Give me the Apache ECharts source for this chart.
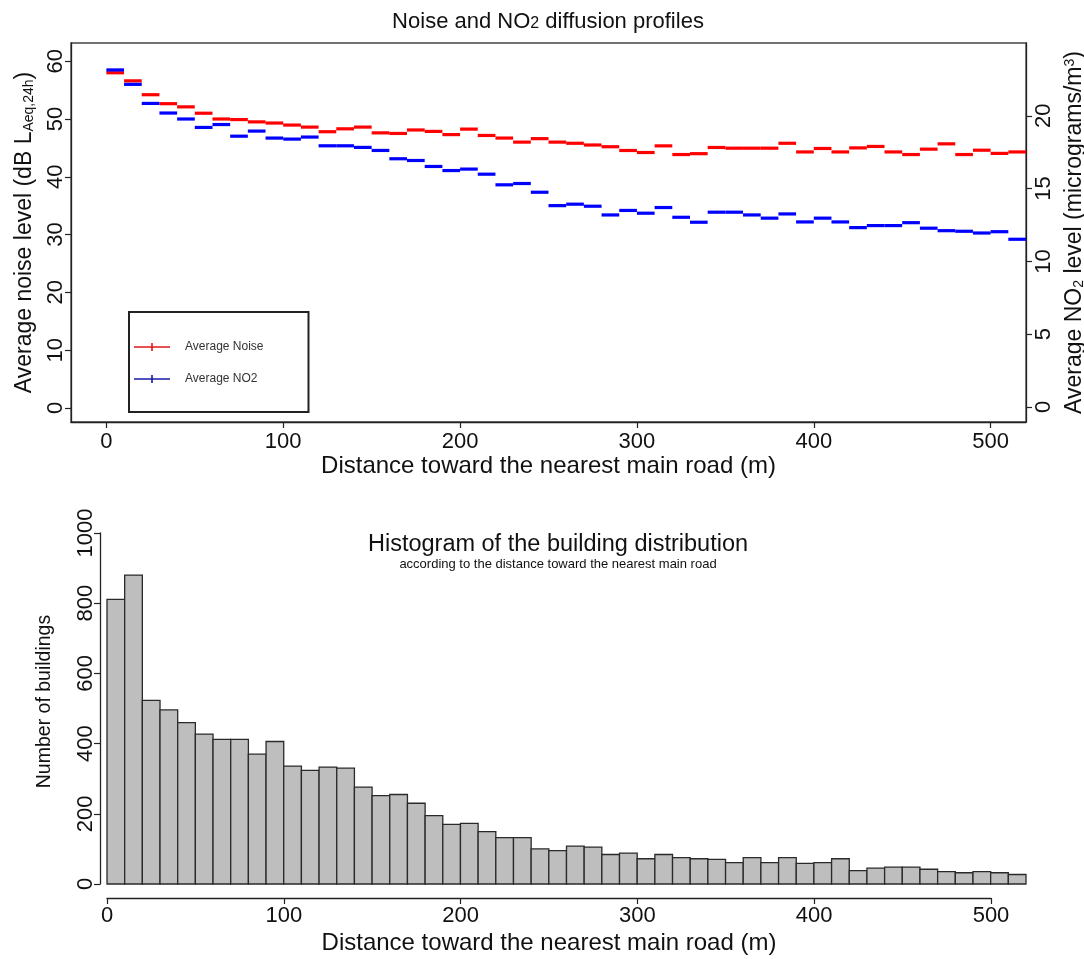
<!DOCTYPE html>
<html>
<head>
<meta charset="utf-8">
<script src="https://cdn.jsdelivr.net/npm/echarts@6/dist/echarts.min.js"></script>
<style>
html,body{margin:0;padding:0;background:#fff;}
#chart{width:1084px;height:959px;}
</style>
</head>
<body>
<div id="chart"></div>
<script>
// ---- data ----
const binEdges = [0,10,20,30,40,50,60,70,80,90,100,110,120,130,140,150,160,170,180,190,200,210,220,230,240,250,260,270,280,290,300,310,320,330,340,350,360,370,380,390,400,410,420,430,440,450,460,470,480,490,500,510,520];
const noiseLevels = [58.0,56.6,54.2,52.65,52.1,51.0,50.0,49.9,49.5,49.3,
  48.95,48.6,47.8,48.3,48.6,47.6,47.5,48.1,47.85,47.3,
  48.25,47.15,46.7,46.0,46.6,46.0,45.8,45.5,45.2,44.55,
  44.2,45.35,43.85,44.0,45.07,44.95,44.95,44.95,45.8,44.3,
  44.9,44.3,45.0,45.25,44.3,43.85,44.78,45.7,43.85,44.6,
  44.05,44.3];
const no2Levels = [23.15,22.16,20.85,20.19,19.78,19.2,19.4,18.6,18.95,18.47,
  18.4,18.54,17.94,17.94,17.83,17.62,17.05,16.93,16.52,16.24,
  16.34,15.99,15.26,15.35,14.75,13.83,13.93,13.79,13.19,13.5,
  13.31,13.7,13.03,12.69,13.38,13.38,13.19,12.97,13.26,12.71,
  12.97,12.71,12.32,12.46,12.46,12.66,12.28,12.11,12.07,11.95,
  12.04,11.52];
const buildingCounts = [811,880,523,496,460,427,412,412,370,406,
  336,324,333,330,276,252,255,230,195,170,
  173,149,132,132,100,95,108,105,84,88,
  72,84,75,72,70,61,75,61,75,59,
  61,72,38,45,48,48,42,35,32,35,
  32,27];
const distanceTicks = [0,100,200,300,400,500];
const noiseTicks = [0,10,20,30,40,50,60];
const no2Ticks = [0,5,10,15,20];
const countTicks = [0,200,400,600,800,1000];

// ---- build ----
const FONT = 'Liberation Sans, Arial, sans-serif';
function segs(values){ return values.map((v,i)=>[binEdges[i], binEdges[i+1], v]); }

function segRender(color){
  return function(params, api){
    const p0 = api.coord([api.value(0), api.value(2)]);
    const p1 = api.coord([api.value(1), api.value(2)]);
    return {type:'line', shape:{x1:p0[0],y1:p0[1],x2:p1[0],y2:p1[1]},
      style:{stroke:color, lineWidth:3.2}};
  };
}
function histRender(params, api){
  const p0 = api.coord([api.value(0), api.value(2)]);
  const p1 = api.coord([api.value(1), 0]);
  return {type:'rect', shape:{x:p0[0], y:p0[1], width:p1[0]-p0[0], height:p1[1]-p0[1]},
    style:{fill:'#bebebe', stroke:'#2a2a2a', lineWidth:1.3}};
}

const axisLine = {show:true, onZero:false, lineStyle:{color:'#222', width:1.3}};
const tick = {show:true, length:6, lineStyle:{color:'#222', width:1.2}};
const label = {color:'#111', fontSize:22, fontFamily:FONT, formatter:function(v){return String(v);}};
function nameStyle(size, extra){
  return Object.assign({color:'#111', fontSize:size, fontFamily:FONT,
    rich:{sub:{fontSize:Math.round(size*0.6), fontFamily:FONT, color:'#111', verticalAlign:'bottom'},
          sup:{fontSize:Math.round(size*0.6), fontFamily:FONT, color:'#111', verticalAlign:'top'}}}, extra || {});
}

const legendIcon = 'path://M0,3.2h36v1.6h-36z M17.2,0h1.6v8h-1.6z';

const option = {
  animation:false,
  backgroundColor:'#fff',
  title:[
    {text:'Noise and NO{sub|2} diffusion profiles', left:548, top:11, textAlign:'center', padding:0,
     textStyle:{color:'#111', fontSize:22, fontWeight:'normal', fontFamily:FONT,
       rich:{sub:{fontSize:16, color:'#111', fontFamily:FONT, padding:[3,0,0,0]}}}},
    {text:'Histogram of the building distribution', subtext:'according to the distance toward the nearest main road',
     left:558, top:533, textAlign:'center', padding:0, itemGap:1,
     textStyle:{color:'#111', fontSize:23.5, fontWeight:'normal', fontFamily:FONT},
     subtextStyle:{color:'#111', fontSize:13, fontFamily:FONT}}
  ],
  legend:{
    left:129, top:312, orient:'vertical', itemWidth:36, itemHeight:8, itemGap:20,
    padding:[29,45,27,5], borderColor:'#222', borderWidth:2, backgroundColor:'#fff',
    textStyle:{color:'#333', fontSize:12, fontFamily:FONT, padding:[0,0,0,10]},
    data:[
      {name:'Average Noise', icon:legendIcon, itemStyle:{color:'#e01818'}},
      {name:'Average NO2', icon:legendIcon, itemStyle:{color:'#1a1aa8'}}
    ]
  },
  grid:[
    {left:71, top:43, width:955, height:379, show:true, borderColor:'#444', borderWidth:1.3, containLabel:false, outerBoundsMode:'none'},
    {left:107, top:533, width:919, height:351, containLabel:false, outerBoundsMode:'none'},
    {left:107, top:897, width:884, height:1, containLabel:false, outerBoundsMode:'none'}
  ],
  xAxis:[
    {gridIndex:0, type:'value', min:-20, max:520, position:'bottom',
     axisLine:axisLine, splitLine:{show:false},
     axisTick:Object.assign({customValues:distanceTicks}, tick),
     axisLabel:Object.assign({customValues:distanceTicks, margin:9}, label),
     name:'Distance toward the nearest main road (m)', nameLocation:'middle', nameGap:31, nameTextStyle:nameStyle(24)},
    {gridIndex:1, type:'value', min:0, max:520, show:false},
    {gridIndex:2, type:'value', min:0, max:500, position:'bottom',
     axisLine:axisLine, splitLine:{show:false},
     axisTick:Object.assign({customValues:distanceTicks}, tick),
     axisLabel:Object.assign({customValues:distanceTicks, margin:7}, label),
     name:'Distance toward the nearest main road (m)', nameLocation:'middle', nameGap:33, nameTextStyle:nameStyle(24)}
  ],
  yAxis:[
    {gridIndex:0, type:'value', min:-2.43, max:63.15, position:'left',
     axisLine:axisLine, splitLine:{show:false},
     axisTick:Object.assign({customValues:noiseTicks}, tick),
     axisLabel:Object.assign({customValues:noiseTicks, rotate:90, margin:4}, label),
     name:'Average noise level (dB L{sub|Aeq,24h})', nameLocation:'middle', nameRotate:90, nameGap:35, nameTextStyle:nameStyle(23)},
    {gridIndex:0, type:'value', min:-1.03, max:25.0, position:'right',
     axisLine:axisLine, splitLine:{show:false},
     axisTick:Object.assign({customValues:no2Ticks}, tick),
     axisLabel:Object.assign({customValues:no2Ticks, rotate:90, margin:7}, label),
     name:'Average NO{sub|2} level (micrograms/m{sup|3})', nameLocation:'middle', nameRotate:90, nameGap:27, nameTextStyle:nameStyle(23)},
    {gridIndex:1, type:'value', min:0, max:1000, position:'left', offset:7,
     axisLine:axisLine, splitLine:{show:false},
     axisTick:Object.assign({customValues:countTicks}, tick),
     axisLabel:Object.assign({customValues:countTicks, rotate:90, margin:3}, label),
     name:'Number of buildings', nameLocation:'middle', nameRotate:90, nameGap:45,
     nameTextStyle:nameStyle(19.5, {padding:[0,0,0,14]})},
    {gridIndex:2, type:'value', show:false}
  ],
  series:[
    {name:'Average Noise', type:'custom', xAxisIndex:0, yAxisIndex:0, renderItem:segRender('#ff0000'),
     itemStyle:{color:'#e01818'}, encode:{x:[0,1], y:2}, data:segs(noiseLevels), z:3},
    {name:'Average NO2', type:'custom', xAxisIndex:0, yAxisIndex:1, renderItem:segRender('#0000ff'),
     itemStyle:{color:'#1a1aa8'}, encode:{x:[0,1], y:2}, data:segs(no2Levels), z:3},
    {name:'Buildings', type:'custom', xAxisIndex:1, yAxisIndex:2, renderItem:histRender,
     encode:{x:[0,1], y:2}, data:segs(buildingCounts)}
  ]
};
const chart = echarts.init(document.getElementById('chart'), null, {renderer:'canvas'});
chart.setOption(option);
</script>
</body>
</html>
